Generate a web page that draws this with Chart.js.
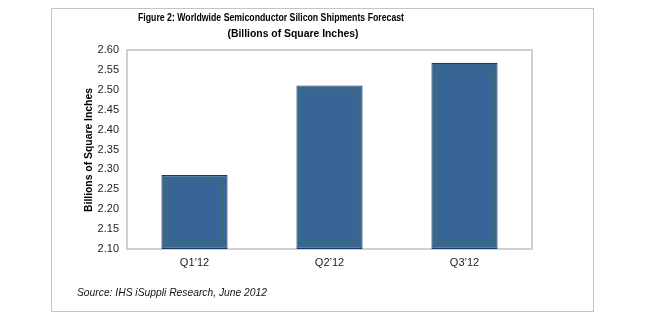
<!DOCTYPE html>
<html>
<head>
<meta charset="utf-8">
<script src="https://cdn.jsdelivr.net/npm/chart.js@4.4.1/dist/chart.umd.min.js"></script>
<style>
  html, body { margin: 0; padding: 0; background: #fff; }
  #wrap { position: relative; width: 671px; height: 327px; }
  #frame { position: absolute; left: 51px; top: 8px; width: 543px; height: 304px; border: 1px solid #c4c4c4; box-sizing: border-box; }
  canvas { position: absolute; left: 0; top: 0; }
</style>
</head>
<body>
<div id="wrap">
  <div id="frame"></div>
  <canvas id="c" width="671" height="327"></canvas>
</div>
<script>
const categories = ["Q1\u201912", "Q2\u201912", "Q3\u201912"];
const shipments = [2.286, 2.511, 2.568];
const yMin = 2.10, yMax = 2.60, yStep = 0.05;
const titleLines = ["Figure 2: Worldwide Semiconductor Silicon Shipments Forecast", "(Billions of Square Inches)"];
const yAxisTitle = "Billions of Square Inches";
const sourceText = "Source: IHS iSuppli Research, June 2012";

const decor = {
  id: 'decor',
  beforeDatasetsDraw(chart) {
    const {ctx, chartArea: a} = chart;
    ctx.save();
    ctx.strokeStyle = '#c0c0c0';
    ctx.lineWidth = 1.5;
    ctx.strokeRect(a.left, a.top, a.right - a.left, a.bottom - a.top);
    ctx.restore();
  },
  afterDatasetsDraw(chart) {
    const {ctx, chartArea: a} = chart;
    const meta = chart.getDatasetMeta(0);
    ctx.save();
    ctx.strokeStyle = 'rgba(62,112,100,0.85)';
    ctx.lineWidth = 1.5;
    meta.data.forEach(el => {
      const p = el.getProps(['x','y','base','width'], true);
      const l = p.x - p.width/2 + 5, r = p.x + p.width/2 - 5;
      const t = p.y + 5, b = Math.min(p.base, a.bottom) - 6;
      ctx.strokeRect(l, t, r - l, b - t);
    });
    ctx.restore();
  },
  afterDraw(chart) {
    const {ctx} = chart;
    ctx.save();
    ctx.fillStyle = '#000';
    ctx.textBaseline = 'middle';
    ctx.textAlign = 'center';
    ctx.font = 'bold 11px "Liberation Sans", Arial, sans-serif';
    ctx.fillText(titleLines[0], 271, 18, 266);
    ctx.fillText(titleLines[1], 293, 34, 131);
    ctx.translate(89, 150);
    ctx.rotate(-Math.PI/2);
    ctx.fillText(yAxisTitle, 0, 0, 124);
    ctx.restore();
    ctx.save();
    ctx.fillStyle = '#111';
    ctx.textBaseline = 'middle';
    ctx.textAlign = 'left';
    ctx.font = 'italic 11px "Liberation Sans", Arial, sans-serif';
    ctx.fillText(sourceText, 77, 293, 190);
    ctx.restore();
  }
};

new Chart(document.getElementById('c'), {
  type: 'bar',
  data: {
    labels: categories,
    datasets: [{
      data: shipments,
      base: yMin,
      backgroundColor: '#376598',
      borderColor: '#1d3a60',
      borderWidth: 1.2,
      borderSkipped: false,
      categoryPercentage: 1.0,
      barPercentage: 0.49
    }]
  },
  options: {
    responsive: false,
    animation: false,
    devicePixelRatio: 1,
    layout: { padding: { left: 0, right: 139, top: 50, bottom: 0 } },
    plugins: { legend: { display: false }, tooltip: { enabled: false }, title: { display: false } },
    scales: {
      x: {
        grid: { display: false, drawTicks: false },
        border: { display: false },
        ticks: { color: '#222', font: { family: '"Liberation Sans", Arial, sans-serif', size: 11 }, padding: 7 },
        afterFit(s) { s.height = 78; }
      },
      y: {
        min: yMin, max: yMax,
        grid: { display: false, drawTicks: false },
        border: { display: false },
        ticks: {
          stepSize: yStep,
          color: '#222',
          font: { family: '"Liberation Sans", Arial, sans-serif', size: 11 },
          padding: 8,
          callback: v => Number(v).toFixed(2)
        },
        afterFit(s) { s.width = 127; }
      }
    }
  },
  plugins: [decor]
});
</script>
</body>
</html>
